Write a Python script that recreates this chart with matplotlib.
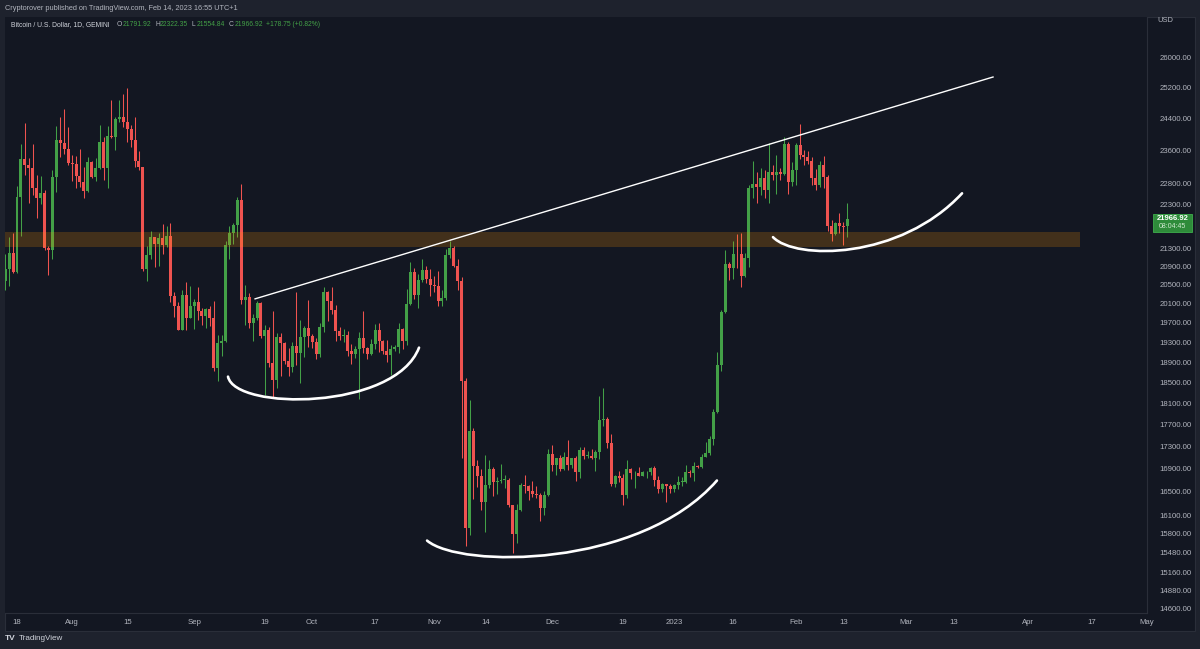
import numpy as np
import pandas as pd
import matplotlib
matplotlib.use('Agg')
import matplotlib.pyplot as plt
import matplotlib.dates as mdates
from matplotlib.path import Path
from matplotlib.patches import PathPatch, Rectangle
from matplotlib.transforms import IdentityTransform
from matplotlib.ticker import NullLocator

plt.rcParams['font.family'] = ['Liberation Sans', 'DejaVu Sans']

# daily BTC/USD candles (Gemini), first candle 2022-07-15, one line per month
first_day = '2022-07-15'
opens = [
    20580, 20830, 21190, 20780, 22480, 23390, 23230, 23160, 22680, 22450, 22580, 21310, 21250, 22950, 23850, 23780, 23640,
    23300, 23270, 22980, 22820, 22620, 23310, 22960, 23170, 23810, 23160, 23950, 23940, 24400, 24440, 24310, 24130, 23850, 23340, 23190, 20830, 21150, 21550, 21400, 21530, 21370, 21580, 20260, 20040, 19550, 20290, 19800,
    20050, 20130, 19950, 19830, 19990, 19800, 18790, 19290, 19320, 21360, 21650, 21830, 22400, 20170, 20240, 19700, 19800, 20110, 19420, 19540, 18880, 18550, 19410, 19290, 18930, 18800, 19220, 19080, 19410, 19590,
    19420, 19310, 19060, 19620, 20340, 20160, 19960, 19530, 19420, 19450, 19130, 19060, 19160, 19380, 19180, 19070, 19260, 19550, 19330, 19130, 19040, 19160, 19210, 19570, 19330, 20090, 20770, 20290, 20600, 20810, 20630,
    20490, 20480, 20160, 20210, 21150, 21300, 20910, 20590, 18540, 15880, 17590, 16950, 16770, 16330, 16620, 16890, 16670, 16690, 16700, 16700, 16280, 15780, 16190, 16610, 16600, 16520, 16460, 16440, 16220, 16440,
    17170, 16970, 17090, 16890, 17110, 16970, 17090, 16840, 17230, 17130, 17130, 17090, 17210, 17780, 17810, 17360, 16630, 16780, 16740, 16440, 16900, 16820, 16830, 16780, 16840, 16840, 16920, 16710, 16540, 16630, 16600,
    16540, 16610, 16670, 16670, 16850, 16830, 16950, 16940, 17120, 17190, 17440, 17940, 18850, 19930, 20950, 20870, 21170, 21160, 20690, 21080, 22680, 22780, 22710, 22920, 22630, 23060, 23010, 23080, 23030, 23770, 22840,
    23130, 23730, 23490, 23430, 23330, 22930, 22760, 23240, 22960, 21800, 21630, 21860, 21790, 21791.92,
]
highs = [
    21180, 21560, 21650, 22740, 23760, 24280, 23420, 23760, 23000, 22980, 22650, 21350, 23110, 24200, 24430, 24650, 24190,
    23480, 23450, 23630, 23200, 23440, 23350, 23400, 24240, 23930, 24210, 24870, 24450, 24870, 25050, 25200, 24230, 24450, 23590, 23200, 21350, 21690, 21560, 21650, 21850, 21800, 21870, 20340, 20140, 20380, 20550, 20480,
    20200, 20440, 20000, 20010, 20040, 20160, 19450, 19440, 21460, 21790, 21860, 22470, 22780, 20500, 20330, 19880, 20160, 20130, 19660, 19620, 19950, 19490, 19480, 19300, 19190, 19300, 20340, 19760, 19640, 20180,
    19470, 19390, 19700, 20460, 20370, 20440, 20060, 19620, 19560, 19520, 19260, 19220, 19500, 19950, 19210, 19370, 19670, 19700, 19350, 19340, 19240, 19250, 19690, 19600, 20400, 20990, 20860, 20740, 21060, 20910, 20830,
    20690, 20790, 20380, 21280, 21470, 21350, 21060, 20670, 18590, 18160, 17640, 17060, 16900, 17140, 17050, 16940, 16760, 16980, 16800, 16740, 16280, 16290, 16660, 16790, 16610, 16680, 16600, 16480, 16520, 17250,
    17320, 17100, 17140, 17200, 17420, 17100, 17130, 17290, 17300, 17220, 17260, 17240, 18250, 18390, 17850, 17530, 16800, 16860, 16810, 17060, 16910, 16860, 16940, 16860, 16860, 16940, 16960, 16780, 16660, 16640, 16640,
    16630, 16770, 16760, 16970, 16880, 17030, 16970, 17170, 17390, 17490, 17990, 19100, 19960, 21260, 21000, 21460, 21620, 21640, 21190, 22750, 23340, 23060, 23160, 23120, 23790, 23250, 23480, 23160, 23940, 23800, 23310,
    23790, 24250, 23600, 23580, 23440, 23150, 23350, 23450, 23010, 21940, 21900, 22090, 21900, 22322.35,
]
lows = [
    20380, 20480, 20760, 20760, 21580, 23000, 22340, 22530, 21990, 22300, 21250, 20720, 21050, 22600, 23430, 23520, 23240,
    22850, 22680, 22700, 22450, 22590, 22930, 22860, 23150, 22880, 22680, 23910, 23600, 24310, 24180, 23800, 23690, 23190, 23120, 20790, 20570, 21060, 20880, 20900, 21170, 21330, 20140, 19810, 19540, 19540, 19550, 19790,
    19570, 19760, 19650, 19600, 19640, 18720, 18540, 19030, 19300, 21070, 21390, 21550, 20080, 19650, 19600, 19330, 19760, 19380, 18270, 18800, 18200, 18400, 18620, 18860, 18630, 18700, 18850, 18490, 19000, 19200,
    19180, 18960, 19000, 19500, 19740, 19880, 19330, 19350, 19310, 19030, 18860, 18980, 18190, 19080, 18970, 19050, 19160, 19100, 19070, 18900, 18650, 19120, 19080, 19160, 19250, 20060, 20200, 20000, 20550, 20540, 20250,
    20350, 20050, 20040, 20180, 21080, 20880, 20390, 17100, 15590, 15760, 16370, 16580, 16180, 15820, 16560, 16420, 16460, 16650, 16570, 16240, 15480, 15640, 16170, 16470, 16350, 16410, 16400, 16000, 16110, 16430,
    16870, 16800, 16870, 16880, 16880, 16920, 16690, 16740, 17080, 17090, 17070, 16870, 17080, 17670, 17280, 16600, 16590, 16670, 16270, 16400, 16730, 16560, 16770, 16770, 16740, 16790, 16600, 16470, 16490, 16330, 16480,
    16490, 16550, 16600, 16660, 16750, 16680, 16910, 16920, 17110, 17150, 17320, 17920, 18720, 19900, 20610, 20620, 20860, 20460, 20670, 20880, 22440, 22340, 22530, 22460, 22330, 22870, 22550, 22880, 23000, 22550, 22740,
    22760, 23390, 23230, 23260, 22760, 22640, 22720, 22680, 21690, 21460, 21600, 21640, 21360, 21554.84,
]
closes = [
    20830, 21190, 20780, 22480, 23390, 23230, 23160, 22680, 22450, 22580, 21310, 21250, 22950, 23850, 23780, 23640, 23300,
    23270, 22980, 22820, 22620, 23310, 22960, 23170, 23810, 23160, 23950, 23940, 24400, 24440, 24310, 24130, 23850, 23340, 23190, 20830, 21150, 21550, 21400, 21530, 21370, 21580, 20260, 20040, 19550, 20290, 19800, 20050,
    20130, 19950, 19830, 19990, 19800, 18790, 19290, 19320, 21360, 21650, 21830, 22400, 20170, 20240, 19700, 19800, 20110, 19420, 19540, 18880, 18550, 19410, 19290, 18930, 18800, 19220, 19080, 19410, 19590, 19420,
    19310, 19060, 19620, 20340, 20160, 19960, 19530, 19420, 19450, 19130, 19060, 19160, 19380, 19180, 19070, 19260, 19550, 19330, 19130, 19040, 19160, 19210, 19570, 19330, 20090, 20770, 20290, 20600, 20810, 20630, 20490,
    20480, 20160, 20210, 21150, 21300, 20910, 20590, 18540, 15880, 17590, 16950, 16770, 16330, 16620, 16890, 16670, 16690, 16700, 16700, 16280, 15780, 16190, 16610, 16600, 16520, 16460, 16440, 16220, 16440, 17170,
    16970, 17090, 16890, 17110, 16970, 17090, 16840, 17230, 17130, 17130, 17090, 17210, 17780, 17810, 17360, 16630, 16780, 16740, 16440, 16900, 16820, 16830, 16780, 16840, 16840, 16920, 16710, 16540, 16630, 16600, 16540,
    16610, 16670, 16670, 16850, 16830, 16950, 16940, 17120, 17190, 17440, 17940, 18850, 19930, 20950, 20870, 21170, 21160, 20690, 21080, 22680, 22780, 22710, 22920, 22630, 23060, 23010, 23080, 23030, 23770, 22840, 23130,
    23730, 23490, 23430, 23330, 22930, 22760, 23240, 22960, 21800, 21630, 21860, 21790, 21788.17, 21966.92,
]

# axis ticks
price_ticks = [26000, 25200, 24400, 23600, 22800, 22300, 21300, 20900, 20500, 20100, 19700, 19300,
               18900, 18500, 18100, 17700, 17300, 16900, 16500, 16100, 15800, 15480, 15160, 14880, 14600]
date_ticks = ['2022-07-18', '2022-08-01', '2022-08-15', '2022-09-01', '2022-09-19', '2022-10-01', '2022-10-17',
              '2022-11-01', '2022-11-14', '2022-12-01', '2022-12-19', '2023-01-01', '2023-01-16', '2023-02-01',
              '2023-02-13', '2023-03-01', '2023-03-13', '2023-04-01', '2023-04-17', '2023-05-01']
date_labels = ['18', 'Aug', '15', 'Sep', '19', 'Oct', '17', 'Nov', '14', 'Dec', '19', '2023', '16', 'Feb',
               '13', 'Mar', '13', 'Apr', '17', 'May']

# drawn annotations (date, price)
trend_line = [('2022-09-16 12:00', 20198), ('2023-03-23 01:00', 25487)]
zone_low, zone_high, zone_end = 21330, 21670, '2023-04-14 03:00'
curve_1 = [('2022-09-09 15:00', 18616), ('2022-09-11 10:00', 17964), ('2022-10-22 01:00', 17964), ('2022-10-28 04:00', 19191)]
curve_2 = [('2022-10-30 05:00', 15676), ('2022-11-07 14:00', 15223), ('2022-12-23 08:00', 15223), ('2023-01-11 21:00', 16695)]
curve_3 = [('2023-01-26 03:00', 21548), ('2023-01-31 17:00', 21034), ('2023-02-27 10:00', 21034), ('2023-03-15 04:00', 22561)]

BG = '#131722'
OUTER = '#1e222d'
BORDER = '#2a2e39'
TXT = '#b2b5be'
UP = '#43a047'
DOWN = '#ef5350'

o = np.array(opens, dtype=float)
h = np.array(highs, dtype=float)
l = np.array(lows, dtype=float)
c = np.array(closes, dtype=float)
x = mdates.date2num(pd.date_range(first_day, periods=len(c), freq='D'))

W, H = 1200, 649
fig = plt.figure(figsize=(W / 100, H / 100), dpi=100, facecolor=OUTER)

# chart pane background
fig.add_artist(Rectangle((5, H - 631), 1190, 614, transform=IdentityTransform(),
                         facecolor=BG, edgecolor=BORDER, lw=0.8, zorder=0))

ax = fig.add_axes([5 / W, (H - 613) / H, 1142 / W, 596 / H])
ax.set_facecolor(BG)
ax.set_yscale('log')

colors = np.where(c >= o, UP, DOWN)
ax.vlines(x, l, h, colors=colors, linewidth=0.75, zorder=2)
body_lo = np.minimum(o, c)
body_h = np.maximum(np.abs(c - o), body_lo * 0.0008)
ax.bar(x, body_h, bottom=body_lo, width=0.76, color=colors, linewidth=0, zorder=2)

x0 = mdates.datestr2num('2022-07-18')
ax.set_xlim(x0 - 3.05, x0 + 287.17)
ax.set_ylim(14530, 27142)

# support zone
zx = mdates.datestr2num(zone_end)
ax.add_patch(Rectangle((x0 - 3.05, zone_low), zx - (x0 - 3.05), zone_high - zone_low,
                       facecolor='#ff9800', alpha=0.2, linewidth=0, zorder=3))

# trend line
ax.plot([mdates.datestr2num(d) for d, _ in trend_line], [p for _, p in trend_line],
        color='white', lw=1.0, zorder=4)

# hand drawn arcs
for pts in (curve_1, curve_2, curve_3):
    verts = [(mdates.datestr2num(d), p) for d, p in pts]
    path = Path(verts, [Path.MOVETO, Path.CURVE4, Path.CURVE4, Path.CURVE4])
    ax.add_patch(PathPatch(path, fill=False, edgecolor='white', lw=1.9,
                           capstyle='round', zorder=4))

# axes styling
ax.yaxis.tick_right()
ax.yaxis.set_minor_locator(NullLocator())
ax.set_yticks(price_ticks)
ax.set_yticklabels([f'{p:.2f}' for p in price_ticks])
ax.set_xticks(mdates.datestr2num(date_ticks))
ax.set_xticklabels(date_labels)
ax.tick_params(axis='y', length=0, pad=9, labelsize=5.6, labelcolor=TXT)
ax.tick_params(axis='x', length=0, pad=4, labelsize=5.6, labelcolor=TXT)
for s in ('left', 'top'):
    ax.spines[s].set_visible(False)
for s in ('right', 'bottom'):
    ax.spines[s].set_color(BORDER)
    ax.spines[s].set_linewidth(0.8)

# last price label
py = ax.transData.transform((x[-1], c[-1]))[1]
fig.add_artist(Rectangle((1153, py - 13), 39, 18, transform=IdentityTransform(),
                         facecolor='#2e8b3a', edgecolor='#3fae4c', lw=0.6, zorder=5))
fig.text(1172.5 / W, (py + 0.5) / H, f'{c[-1]:.2f}', color='white', fontsize=5.5,
         fontweight='bold', ha='center', va='center', zorder=6)
fig.text(1172.5 / W, (py - 8) / H, '08:04:45', color='#cfe9d0', fontsize=5.0,
         ha='center', va='center', zorder=6)

fig.text(1157 / W, 1 - 21 / H, 'USD', color=TXT, fontsize=5.4, va='center')

# header
fig.text(5 / W, 1 - 9 / H, 'Cryptorover published on TradingView.com, Feb 14, 2023 16:55 UTC+1',
         color=TXT, fontsize=5.3, va='center')
chg = c[-1] - c[-2]
legend = [(11, 'Bitcoin / U.S. Dollar, 1D, GEMINI', '#d1d4dc'),
          (117, 'O', TXT), (123, f'{o[-1]:.2f}', UP),
          (155, 'H', TXT), (160, f'{h[-1]:.2f}', UP),
          (192, 'L', TXT), (197, f'{l[-1]:.2f}', UP),
          (229, 'C', TXT), (235, f'{c[-1]:.2f}', UP),
          (266, f'+{chg:.2f} (+{chg / c[-2] * 100:.2f}%)', UP)]
for px, s, col in legend:
    fig.text(px / W, 1 - 25 / H, s, color=col, fontsize=4.9, va='center')

# footer logo
fig.text(5 / W, 1 - 638 / H, 'TV', color='#d1d4dc', fontsize=6, fontweight='bold', va='center')
fig.text(19 / W, 1 - 638 / H, 'TradingView', color='#d1d4dc', fontsize=5.8, va='center')

fig.savefig('out.png', dpi=100, facecolor=OUTER)
